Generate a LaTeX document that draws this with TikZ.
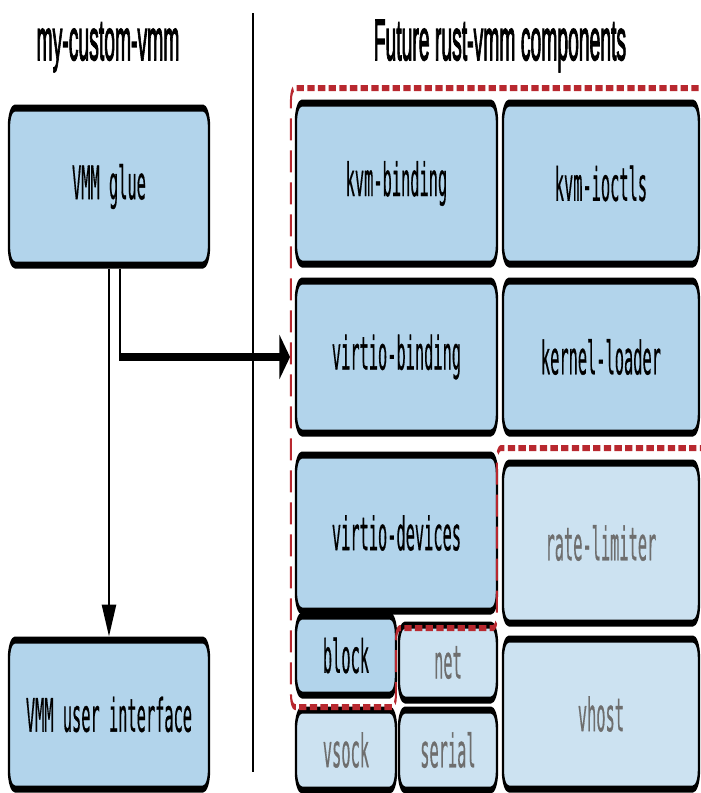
\documentclass[tikz,border=0pt]{standalone}
\usepackage{fontspec}
\setmainfont{Liberation Sans}
\newfontfamily\titlefont[FakeBold=3]{Liberation Sans}
\newfontfamily\codefont[FakeBold=0.8]{DejaVu Sans Mono}
\usetikzlibrary{arrows.meta}

\definecolor{compblue}{HTML}{B2D4EB}
\definecolor{futureblue}{HTML}{CCE2F1}
\definecolor{futuregray}{HTML}{6E6E6E}
\definecolor{fencered}{HTML}{B8282F}

\tikzset{
  comp/.style={draw=black, line width=3.5pt, rounded corners=9pt, fill=compblue,
    inner sep=0pt, font=\codefont\fontsize{23}{26}\selectfont},
  future/.style={comp, fill=futureblue, text=futuregray},
  title/.style={anchor=base, font=\titlefont\fontsize{29}{32}\selectfont},
  link/.style={line width=4pt, -{Triangle[length=16pt,width=21pt]}},
  fence/.style={draw=fencered, line width=3pt, dash pattern=on 11pt off 5pt}
}

\begin{document}
\begin{tikzpicture}[x=0.5pt,y=-0.5pt]
  \useasboundingbox (0,0) rectangle (701,793);

  % whole drawing is squeezed sideways
  \begin{scope}[transform canvas={xscale=0.3333}, x=1.5pt, y=-0.5pt]

  % Column titles
  \node[title] (lefttitle) at (108,60) {my-custom-vmm};
  \node[title] (righttitle) at (500,60) {Future rust-vmm components};

  % Divider
  \draw[line width=3pt] (253,13) -- (253,772);

  % my-custom-vmm
  \node[comp, minimum width=300pt, minimum height=78.5pt] (glue) at (109,186.5) {VMM glue};
  \node[comp, minimum width=300pt, minimum height=74.5pt] (ui) at (109,714.5) {VMM user interface};

  % rust-vmm components
  \node[comp, minimum width=301.5pt, minimum height=80.5pt] (kvmb) at (396.5,183.5) {kvm-binding};
  \node[comp, minimum width=294pt, minimum height=80.5pt] (kvmi) at (601,183.5) {kvm-ioctls};
  \node[comp, minimum width=301.5pt, minimum height=76pt] (vbind) at (396.5,357) {virtio-binding};
  \node[comp, minimum width=294pt, minimum height=76pt] (kload) at (601,357) {kernel-loader};
  \node[comp, minimum width=301.5pt, minimum height=78pt] (vdev) at (396.5,533) {virtio-devices};
  \node[future, minimum width=294pt, minimum height=80pt] (rlim) at (601,543) {rate-limiter};
  \node[comp, minimum width=150pt, minimum height=39.5pt] (block) at (346,655.5) {block};
  \node[future, minimum width=147pt, minimum height=37.5pt] (net) at (448,662.5) {net};
  \node[future, minimum width=150pt, minimum height=40pt] (vsock) at (346,750) {vsock};
  \node[future, minimum width=147pt, minimum height=40pt] (serial) at (448,750) {serial};
  \node[future, minimum width=294pt, minimum height=75pt] (vhost) at (601,714) {vhost};

  % Connectors
  \draw[link] (glue) -- (ui);
  \draw[link] ([xshift=16.5pt]glue.south) |- ([xshift=-7pt]vbind.west);

  % Boundary of the existing crates
  \draw[fence, rounded corners=6pt] (720,88) -- (291,88) -- (291,707) -- (396,707)
    -- (396,628) -- (497,628) -- (497,448) -- (720,448);

  \end{scope}
\end{tikzpicture}
\end{document}
